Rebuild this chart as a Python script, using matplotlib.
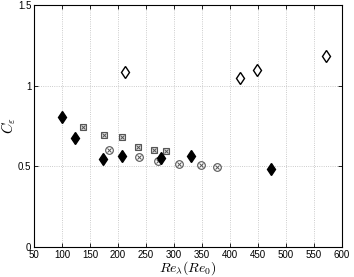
import matplotlib
matplotlib.use("Agg")
import matplotlib.pyplot as plt
import numpy as np

# filled diamonds
re_fill = [100, 124, 174, 207, 276, 330, 474]
ce_fill = [0.806, 0.675, 0.545, 0.563, 0.551, 0.567, 0.483]
# open diamonds
re_open = [213, 418, 448, 571]
ce_open = [1.087, 1.045, 1.095, 1.184]
# boxed crosses
re_box = [138, 175, 208, 236, 264, 286]
ce_box = [0.747, 0.696, 0.685, 0.619, 0.602, 0.596]
# circled crosses
re_circ = [184.5, 237, 272, 309, 348, 377]
ce_circ = [0.600, 0.559, 0.536, 0.514, 0.507, 0.495]

plt.rcParams['font.family'] = ['Liberation Sans', 'DejaVu Sans']
plt.rcParams['mathtext.fontset'] = 'cm'

fig = plt.figure(figsize=(3.54, 2.77), dpi=100)
ax = fig.add_axes([0.096, 0.108, 0.87, 0.874])

gray = '#555555'
ax.plot(re_box, ce_box, 's', ms=4.5, mfc='#dddddd', mec=gray, mew=0.8, ls='none')
ax.plot(re_box, ce_box, 'x', ms=3, mec=gray, mew=0.7, ls='none')
ax.plot(re_circ, ce_circ, 'o', ms=5.5, mfc='none', mec=gray, mew=0.8, ls='none')
ax.plot(re_circ, ce_circ, 'x', ms=3.5, mec=gray, mew=0.7, ls='none')
ax.plot(re_fill, ce_fill, 'd', ms=6.5, mfc='black', mec='black', ls='none')
ax.plot(re_open, ce_open, 'd', ms=6.5, mfc='white', mec='black', mew=1.0, ls='none')

ax.set_xlim(50, 600)
ax.set_ylim(0, 1.5)
ax.set_xticks(np.arange(50, 601, 50))
ax.set_yticks([0, 0.5, 1, 1.5])
ax.set_yticklabels(['0', '0.5', '1', '1.5'])
ax.tick_params(direction='in', labelsize=7, length=3, width=0.6, top=True, right=True, pad=2)
ax.grid(True, ls=':', color='#bbbbbb', lw=0.6)
for s in ax.spines.values():
    s.set_linewidth(0.8)

ax.set_xlabel(r'$Re_\lambda(Re_0)$', fontsize=10)
ax.xaxis.set_label_coords(0.5, -0.05)
ax.set_ylabel(r'$C_\varepsilon$', fontsize=10.5)
ax.yaxis.set_label_coords(-0.052, 0.5)

fig.savefig('out.png', dpi=100)
